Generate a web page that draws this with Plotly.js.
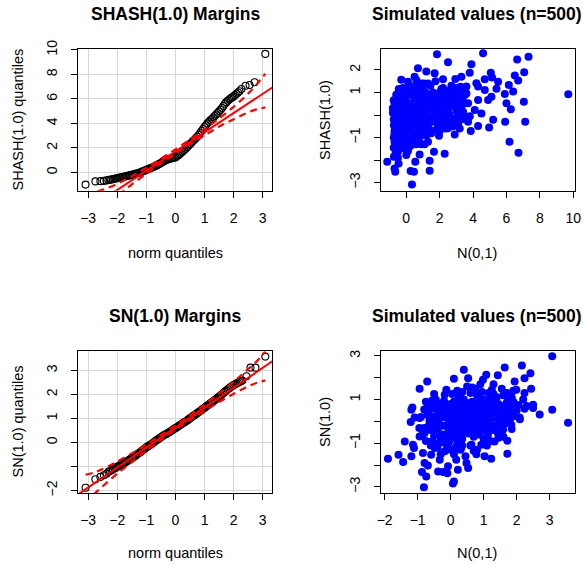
<!DOCTYPE html>
<html><head><meta charset="utf-8">
<script src="https://cdn.plot.ly/plotly-3.0.1.min.js"></script>
<style>html,body{margin:0;padding:0;background:#fff}#chart{width:583px;height:567px}</style>
</head><body><div id="chart"></div>
<script>
// ---------- DATA ----------
// Top-left: SHASH(1.0) QQ plot (theoretical quantile, sample quantile)
const tlTheo = [-3.09,-2.75,-2.58,-2.46,-2.37,
  -2.3,-2.2,-2.1,-2.0,-1.9,-1.8,-1.7,-1.6,-1.5,-1.4,-1.3,-1.2,-1.1,-1.0,-0.9,-0.8,-0.7,-0.6,-0.5,-0.4,-0.3,-0.2,-0.1,
  0,0.1,0.2,0.3,0.4,0.5,0.6,0.7,0.8,0.9,1.0,1.1,1.2,1.3,1.4,1.5,1.6,1.7,1.8,1.9,2.0,2.1,2.2,
  2.27,2.41,2.55,2.72,3.09];
const tlSample = [-1.0,-0.74,-0.72,-0.70,-0.66,
  -0.62,-0.58,-0.53,-0.47,-0.42,-0.37,-0.32,-0.26,-0.20,-0.14,-0.07,0.01,0.10,0.20,0.30,0.40,0.50,0.62,0.76,0.90,1.02,1.10,1.16,
  1.22,1.40,1.60,1.82,2.05,2.30,2.55,2.78,3.05,3.38,3.70,4.00,4.25,4.48,4.72,4.98,5.25,5.60,5.85,6.05,6.20,6.42,6.62,
  6.80,7.07,7.13,7.35,9.67];
const tlTheoMid = [-2.25,-2.15,-2.05,-1.95,-1.85,-1.75,-1.65,-1.55,-1.45,-1.35,-1.25,-1.15,-1.05,-0.95,-0.85,-0.75,-0.65,-0.55,-0.45,-0.35,-0.25,-0.15,-0.05,
  0.05,0.15,0.25,0.35,0.45,0.55,0.65,0.75,0.85,0.95,1.05,1.15,1.25,1.35,1.45,1.55,1.65,1.75,1.85,1.95,2.05,2.15];
const tlSampleMid = [-0.60,-0.555,-0.50,-0.445,-0.395,-0.345,-0.29,-0.23,-0.17,-0.105,-0.03,0.055,0.15,0.25,0.35,0.45,0.56,0.69,0.83,0.96,1.06,1.13,1.19,
  1.31,1.50,1.71,1.93,2.17,2.42,2.66,2.91,3.21,3.54,3.85,4.12,4.36,4.60,4.85,5.11,5.42,5.73,5.95,6.12,6.31,6.52];
const tlLine = {intercept: 1.70, slope: 1.57};
const bandTheo = [-3.09,-2.8,-2.5,-2.2,-2.0,-1.5,-1.0,-0.5,0,0.5,1.0,1.5,2.0,2.2,2.5,2.8,3.09];
const tlUpper = [-1.65,-1.60,-1.43,-1.15,-0.94,-0.33,0.38,1.11,1.87,2.68,3.52,4.39,5.34,5.75,6.43,7.20,8.05];
const tlLower = [-4.65,-3.80,-3.03,-2.35,-1.94,-0.99,-0.12,0.73,1.53,2.30,3.02,3.73,4.34,4.56,4.90,5.15,5.30];

// Bottom-left: SN(1.0) QQ plot
const blTheo = [-3.09,-2.75,-2.58,-2.46,-2.37,
  -2.3,-2.2,-2.1,-2.0,-1.9,-1.8,-1.7,-1.6,-1.5,-1.4,-1.3,-1.2,-1.1,-1.0,-0.9,-0.8,-0.7,-0.6,-0.5,-0.4,-0.3,-0.2,-0.1,
  0,0.1,0.2,0.3,0.4,0.5,0.6,0.7,0.8,0.9,1.0,1.1,1.2,1.3,1.4,1.5,1.6,1.7,1.8,1.9,2.0,2.1,2.2,2.3,
  2.44,2.58,2.75,3.09];
const blSample = [-1.88,-1.53,-1.43,-1.36,-1.30,
  -1.22,-1.15,-1.08,-1.01,-0.95,-0.88,-0.81,-0.73,-0.65,-0.57,-0.48,-0.39,-0.29,-0.20,-0.12,-0.04,0.05,0.14,0.22,0.30,0.37,0.44,0.52,
  0.60,0.68,0.76,0.84,0.92,1.01,1.10,1.18,1.27,1.36,1.45,1.54,1.63,1.72,1.81,1.91,2.01,2.12,2.22,2.31,2.39,2.46,2.52,2.58,
  2.76,3.12,3.12,3.58];
const blTheoMid = [-2.25,-2.15,-2.05,-1.95,-1.85,-1.75,-1.65,-1.55,-1.45,-1.35,-1.25,-1.15,-1.05,-0.95,-0.85,-0.75,-0.65,-0.55,-0.45,-0.35,-0.25,-0.15,-0.05,
  0.05,0.15,0.25,0.35,0.45,0.55,0.65,0.75,0.85,0.95,1.05,1.15,1.25,1.35,1.45,1.55,1.65,1.75,1.85,1.95,2.05,2.15,2.25];
const blSampleMid = [-1.185,-1.115,-1.045,-0.98,-0.915,-0.845,-0.77,-0.69,-0.61,-0.525,-0.435,-0.34,-0.245,-0.16,-0.08,0.005,0.095,0.18,0.26,0.335,0.405,0.48,0.56,
  0.64,0.72,0.80,0.88,0.965,1.055,1.14,1.225,1.315,1.405,1.495,1.585,1.675,1.765,1.86,1.96,2.065,2.17,2.265,2.35,2.425,2.49,2.55];
const blLine = {intercept: 0.62, slope: 0.83};
const blUpper = [-1.34,-1.25,-1.10,-0.92,-0.79,-0.45,-0.08,0.31,0.71,1.14,1.58,2.05,2.53,2.74,3.06,3.39,3.79];
const blLower = [-2.54,-2.15,-1.82,-1.50,-1.29,-0.81,-0.34,0.11,0.53,0.94,1.32,1.69,2.03,2.16,2.34,2.49,2.59];

// Top-right scatter: [x, y]
const trPoints = [
 [1.84,2.70],[4.6,2.74],[2.5,2.34],[3.9,2.25],[6.64,2.46],[7.32,2.59],[0.7,2.07],[3.8,1.88],[6.5,1.75],[7.06,1.9],
 [6.7,1.53],[5.06,1.88],[5.14,1.67],[4.7,1.59],[5.5,1.48],[6.14,1.33],[5.4,1.16],[6.4,1.04],[5.9,0.93],[5.1,0.81],
 [6.0,0.52],[6.26,0.25],[7.04,0.59],[9.7,0.92],[5.2,-0.21],[4.96,-0.56],[5.92,-0.3],[7.12,-0.3],[6.18,-1.19],[6.72,-1.67],
 [4.3,-0.49],[3.86,-0.71],[2.9,-0.86],[2.3,-1.72],[1.96,-0.92],[1.66,-1.63],[1.4,-2.03],[1.4,-2.47],[0.34,-3.08],[0.26,-2.49],
 [0.46,-2.52],[-0.66,-2.52],[-0.7,-2.37],[-1.14,-2.07],[-0.74,-1.85],[-0.46,-2.15],[0.54,-2.07],[0.8,-1.75],[1.1,-1.3],[1.5,-0.81],
 [4.2,1.41],[4.3,1.26],[3.6,1.26],[3.3,1.7],[2.94,1.6],[2.2,1.59],[1.2,1.93],[1.7,1.85],[-0.3,1.56],[0.1,1.48],
 [0.5,1.7],[3.3,0.15],[4.1,0.22],[4.5,0.07],[3.7,-0.3],[3.1,-0.44],[2.5,-0.59],[1.9,-0.52],[0.9,-0.74],[1.3,-1.19],
 [0.3,-1.33],[-0.2,-1.48],[-0.5,-1.63],[0,-1.78],[4.9,0.67],[4.3,0.67],[3.7,0.52],[4.7,1.11],[3.5,0.89],[2.9,0.89],
 [3.1,0.44],[2.5,0.15],[2.3,-0.22],[-0.8,0.3],[-0.7,0],[-0.74,-0.44],[-0.7,-0.81],[-0.6,-1.19],[-0.5,0.74],[-0.6,0.37],
 [-0.7,-0.5],[-0.6,-0.2],[-0.5,0.1],[-0.4,0.4],[-0.3,-0.8],[-0.2,-0.3],[-0.1,0.2],[0,0.6],[0.1,-0.5],[0.2,0.0],
 [0.3,0.5],[0.4,-1.0],[0.5,-0.2],[0.6,0.3],[0.7,0.8],[0.8,-0.6],[0.9,0.1],[1.0,0.6],[1.1,-0.3],[1.2,0.2],
 [1.3,0.9],[1.4,-0.1],[1.5,0.4],[1.6,1.0],[1.7,0.0],[1.8,0.6],[1.9,-0.4],[2.0,0.3],[2.1,0.9],[2.2,1.2],
 [2.4,0.5],[2.6,0.0],[2.8,0.7],[3.0,0.2],[3.2,1.1],[3.4,0.6],[3.6,-0.1],[-0.75,-1.0],[-0.65,-1.3],[-0.55,-0.9],
 [-0.45,-1.1],[-0.35,-0.5],[-0.25,0.0],[-0.15,0.7],[-0.05,-1.2],[0.05,0.9],[0.15,1.1],[0.25,-0.7],[0.35,0.2],[0.45,0.8],
 [0.55,1.3],[0.65,-0.4],[0.75,0.3],[0.85,1.1],[0.95,-0.9],[1.05,1.4],[1.15,0.0],[1.25,-0.5],[1.35,0.5],[1.45,1.3],
 [1.55,-0.7],[1.65,0.3],[1.75,1.5],[1.85,0.9],[1.95,0.1],[2.05,-0.2],[2.3,-0.1],[2.5,0.8],[2.7,1.3],[2.9,-0.2],
 [3.1,0.8],[3.3,-0.2],[3.5,1.1],[-0.8,0.1],[-0.7,0.5],[-0.6,0.9],[-0.5,-1.4],[-0.4,-0.6],[-0.3,0.9],[-0.2,1.2],
 [-0.1,-0.9],[0.0,-0.2],[0.1,0.3],[0.2,-1.4],[0.3,-0.3],[0.4,1.0],[0.5,0.4],[0.6,-0.8],[0.7,-0.1],[0.8,0.5],
 [0.9,1.4],[1.0,-0.6],[1.1,0.8],[1.2,-0.9],[1.3,0.2],[1.4,0.7],[1.6,-0.3],[1.7,0.8],[1.8,-0.7],[2.0,1.0],
 [2.2,0.2],[2.4,-0.4],[-0.65,0.2],[-0.55,-0.6],[-0.45,0.6],[-0.35,0.2],[-0.25,-1.0],[-0.15,-0.4],[-0.05,0.4],[0.05,-0.7],
 [0.15,0.5],[0.25,0.9],[0.35,-0.5],[0.45,0.0],[0.55,0.6],[0.65,1.0],[0.75,-1.1],[0.85,0.0],[0.95,0.6],[1.05,0.2],
 [1.15,1.0],[1.25,-0.2],[1.35,-0.6],[1.5,0.9],[1.6,0.5],[1.75,-0.2],[1.9,0.4],[2.1,0.6],[2.3,1.0],[2.6,0.4],
 [2.8,-0.5],[3.0,1.2],[-0.7,-0.7],[-0.6,-1.6],[-0.7,-1.2],[-0.3,-1.3],[0.0,-1.0],[0.3,-0.9],[0.6,-1.3],[0.9,-1.3],
 [-0.5,-1.9],[0.1,-1.6],
 [-0.75,-0.2],[-0.65,0.05],[-0.55,0.35],[-0.45,-0.35],[-0.35,0.65],[-0.25,0.35],[-0.15,-0.15],[-0.05,-0.55],[0.05,0.15],[0.15,-0.25],
 [0.25,0.45],[0.35,1.05],[0.45,-0.45],[0.55,0.05],[0.65,0.5],[0.75,1.05],[0.85,-0.3],[0.95,0.35],[2.25,0.9],[2.35,-0.6],
 [2.45,0.65],[2.55,0.05],[2.65,0.45],[2.75,1.15],[2.85,-0.35],[2.95,0.35],[3.05,-0.1],[3.15,0.75],[3.25,1.25],[3.35,0.45],
 [-0.7,-0.95],[-0.6,-0.45],[-0.4,-0.95],[-0.2,0.55],[0.0,0.35],[0.2,-0.35],[0.4,0.3],[0.6,0.95],[0.8,0.8],[2.0,0.25],
 [2.1,1.15],[2.2,0.5],[2.3,-0.35],[2.4,1.05],[2.5,0.1],[2.6,0.75],[2.7,0.5],[2.8,1.2],[-0.75,-1.45],[-0.65,-1.75],
 [-0.55,-1.25],[-0.4,-1.45],[-0.2,-1.1],[0.1,-1.15],[0.4,-1.3],[0.7,-0.85],[-0.75,0.65],[-0.45,1.15],[0.2,1.3],[0.6,1.55],
 [1.0,1.2],[1.3,1.4],[2.4,0.9],[2.6,-0.3],[2.2,-0.5],[2.0,-0.7],[2.5,1.05],[3.4,0.15],[3.6,0.95],[3.8,-0.05],
 [3.2,-0.6]
];

// Bottom-right scatter: [x, y]
const brPoints = [
 [3.08,2.98],[2.16,2.56],[1.64,2.47],[2.42,2.2],[2.24,1.98],[1.94,1.83],[1.43,2.11],[1.08,2.14],[0.98,1.91],[0.4,2.37],
 [0.1,1.95],[0.53,1.98],[-0.71,1.83],[-0.94,1.5],[2.44,1.5],[1.99,1.45],[2.24,1.3],[-0.13,1.45],[-0.18,1.22],[-0.57,0.95],
 [-1.19,0.53],[-1.16,0.64],[-0.69,0.69],[-1.21,-0.03],[-1.09,0.18],[-0.94,0.15],[-0.64,0.03],[3.08,0.53],[2.7,0.31],[3.56,-0.06],
 [2.5,0.76],[2.5,0.61],[2.24,0.58],[2.09,0.18],[1.84,-0.15],[1.59,-0.38],[1.72,-0.89],[1.72,-1.48],[1.23,-1.71],[1.03,-1.6],
 [1.33,-0.92],[0.78,-1.5],[0.53,-2.14],[0.48,-1.91],[0.22,-2.21],[0.1,-2.75],[0.07,-2.85],[-0.81,-3.02],[-0.74,-2.52],[-0.87,-2.32],
 [-0.69,-2.02],[-0.79,-1.91],[-0.38,-2.29],[-0.23,-2.32],[-0.1,-2.37],[-0.08,-2.06],[0.17,-1.76],[-0.33,-1.76],[-0.59,-1.53],[-0.84,-1.45],
 [-1.19,-1.6],[-1.44,-1.86],[-1.58,-1.53],[-1.9,-1.71],[-1.39,-0.92],[-1.14,-1.07],[-1.11,-1.22],[-0.94,-0.69],[-0.79,-0.53],[-0.48,-1.22],
 [-0.18,-1.37],[0.32,-1.22],[0.63,-1.07],[0.93,-1.07],[1.13,-0.61],[1.43,-0.53],
 [-0.6,-0.4],[-0.5,0.0],[-0.4,0.4],[-0.3,-0.8],[-0.2,-0.2],[-0.1,0.3],[0.0,0.8],[0.1,-0.6],[0.2,0.0],[0.3,0.5],
 [0.4,1.0],[0.5,-0.3],[0.6,0.2],[0.7,0.7],[0.8,1.2],[0.9,-0.1],[1.0,0.4],[1.1,0.9],[1.2,0.0],[1.3,0.5],
 [1.4,1.1],[1.5,0.2],[1.6,0.7],[1.7,1.3],[1.8,0.4],[1.9,0.9],[2.0,0.5],[-0.55,-0.9],[-0.45,-0.3],[-0.35,0.1],
 [-0.25,0.6],[-0.15,-1.0],[-0.05,-0.4],[0.05,0.1],[0.15,0.6],[0.25,1.1],[0.35,-0.8],[0.45,-0.1],[0.55,0.4],[0.65,0.9],
 [0.75,1.5],[0.85,-0.6],[0.95,0.1],[1.05,0.6],[1.15,1.3],[1.25,-0.4],[1.35,0.2],[1.45,0.8],[1.55,1.5],[1.65,-0.1],
 [1.75,0.6],[1.85,1.1],[-0.7,0.3],[-0.6,-1.1],[-0.4,-1.2],[-0.3,0.8],[-0.2,-0.6],[-0.1,-1.2],[0.0,0.3],[0.1,0.9],
 [0.2,-1.0],[0.3,-0.3],[0.4,0.2],[0.5,0.8],[0.6,1.3],[0.7,-0.7],[0.8,0.0],[0.9,0.5],[1.0,1.0],[1.1,-0.5],
 [1.2,0.7],[1.3,-0.2],[1.4,0.3],[1.6,0.0],[1.7,0.3],[1.8,0.8],[1.9,1.4],[-0.5,0.6],[-0.4,-0.5],[-0.3,-0.2],
 [-0.2,0.2],[-0.1,0.7],[0.0,-0.7],[0.1,-0.2],[0.2,0.4],[0.3,0.9],[0.4,-0.5],[0.5,0.1],[0.6,0.6],[0.7,0.2],
 [0.8,0.7],[0.9,1.0],[1.0,-0.2],[1.1,0.2],[1.2,1.1],[1.3,0.9],[1.4,-0.4],[1.5,0.6],[1.0,-0.8],[0.6,-1.1],
 [0.3,-1.3],[0.0,-1.3],[-0.3,-1.5],[0.2,1.4],[0.5,1.6],[0.9,1.7],[1.3,1.7],[-0.8,-0.3],[-0.9,0.2],[-0.75,0.9],
 [-0.45,1.0],[0.1,-1.5],[0.45,-1.6],[0.8,-1.3],[1.2,-0.9],[1.6,-0.7],[2.1,0.1],[2.2,1.0],[2.3,0.7],
 [-0.65,0.5],[-0.55,0.2],[-0.45,-0.15],[-0.35,-0.55],[-0.25,-0.9],[-0.15,0.35],[-0.05,0.0],[0.05,-0.35],[0.15,-0.75],[0.25,0.25],
 [0.35,0.65],[0.45,0.45],[0.55,-0.55],[0.65,-0.25],[0.75,0.05],[0.85,0.35],[0.95,0.75],[1.05,-0.35],[1.15,-0.15],[1.25,0.35],
 [1.35,0.65],[1.45,0.05],[1.55,-0.25],[1.65,0.45],[1.75,0.95],[1.85,-0.35],[1.95,0.25],[2.05,0.75],
 [-0.6,0.75],[-0.5,-0.65],[-0.4,0.75],[-0.3,0.45],[-0.2,-0.95],[-0.1,-0.15],[0.0,0.5],[0.1,0.15],[0.2,0.7],[0.3,-0.6],
 [0.4,-0.2],[0.5,0.3],[0.6,-0.1],[0.7,0.45],[0.8,-0.3],[0.9,0.25],[1.0,0.7],[1.1,-0.1],[1.2,0.45],[1.3,1.25],
 [1.4,0.55],[1.5,-0.1],[1.6,0.3],[1.7,0.85],[1.8,0.1],[1.9,0.6],
 [-0.85,-0.6],[-0.75,-0.9],[-0.65,-0.15],[-0.95,-0.3],[-0.8,0.55],[-0.5,1.25],[-0.2,0.95],[0.05,1.25],[0.35,1.35],[0.65,1.55],
 [0.95,1.35],[1.25,1.45],[1.6,1.2],[1.45,-0.75],[1.1,-1.1],[0.7,-1.35],[0.35,-1.1],[-0.05,-0.95],[-0.35,-1.0],[0.15,-1.2],
 [0.2,0.2],[0.4,0.55],[0.6,0.85],[0.8,0.25],[1.0,0.15],[0.3,0.05],[0.5,-0.05],[0.7,-0.4],[0.9,-0.45],[1.1,0.45],
 [0.0,0.1],[-0.1,0.5],[0.1,0.55],[0.45,0.7],[0.85,0.9],[1.2,0.25],[1.4,0.75],[1.55,0.4],[0.25,-0.45],[-0.15,-0.7]
];

// Titles / labels
const titles = ["SHASH(1.0) Margins", "Simulated values (n=500)", "SN(1.0) Margins", "Simulated values (n=500)"];
const xTitles = ["norm quantiles", "N(0,1)", "norm quantiles", "N(0,1)"];
const yTitles = ["SHASH(1.0) quantiles", "SHASH(1.0)", "SN(1.0) quantiles", "SN(1.0)"];

const tlXTicks = [-3,-2,-1,0,1,2,3];
const tlYTicks = [0,2,4,6,8,10];
const trXTicks = [0,2,4,6,8,10];
const trYTicks = [-3,-2,-1,0,1,2];
const trYLabels = ["−3","","−1","","1","2"];
const blYTicks = [-2,-1,0,1,2,3];
const blYLabels = ["−2","","0","1","2","3"];
const brXTicks = [-2,-1,0,1,2,3];
const brYTicks = [-3,-2,-1,0,1,2,3];
const brYLabels = ["−3","","−1","","1","","3"];
const lbl = v => v.map(t => (t < 0 ? "−" + Math.abs(t) : String(t)));

// ---------- LAYOUT HELPERS ----------
const W = 583, H = 567;
const px = x => x / W, py = y => 1 - y / H;
const FONT = "Liberation Sans, Arial, Helvetica, sans-serif";

const traces = [];
function qqTraces(theo, sample, line, up, lo, xa, ya, xr) {
  traces.push({x: theo, y: sample, xaxis: xa, yaxis: ya, type: "scatter", mode: "markers",
    marker: {symbol: "circle-open", size: 7, color: "black", line: {width: 1.1, color: "black"}}});
  traces.push({x: xr, y: xr.map(v => line.intercept + line.slope * v), xaxis: xa, yaxis: ya,
    type: "scatter", mode: "lines", line: {color: "red", width: 2}});
  [up, lo].forEach(b => traces.push({x: bandTheo, y: b, xaxis: xa, yaxis: ya, type: "scatter",
    mode: "lines", line: {color: "red", width: 2.2, dash: "7px,5px", shape: "spline", smoothing: 0.6}}));
}
function scatterTrace(pts, xa, ya) {
  traces.push({x: pts.map(p => p[0]), y: pts.map(p => p[1]), xaxis: xa, yaxis: ya, type: "scatter",
    mode: "markers", marker: {symbol: "circle", size: 8, color: "#0000FF"}});
}

const tlXR = [-3.36, 3.33];
const blXR = [-3.36, 3.33];
qqTraces(tlTheo.concat(tlTheoMid), tlSample.concat(tlSampleMid), tlLine, tlUpper, tlLower, "x", "y", tlXR);
scatterTrace(trPoints, "x2", "y2");
qqTraces(blTheo.concat(blTheoMid), blSample.concat(blSampleMid), blLine, blUpper, blLower, "x3", "y3", blXR);
scatterTrace(brPoints, "x4", "y4");

function axis(domain, range, tickvals, ticktext, isY, grid, anchor) {
  return {
    domain: domain, range: range, autorange: false, anchor: anchor,
    tickmode: "array", tickvals: tickvals, ticktext: ticktext,
    ticks: "outside", ticklen: 6, tickwidth: 1, tickcolor: "black",
    showline: true, mirror: true, linecolor: "black", linewidth: 1,
    zeroline: false, showgrid: grid, gridcolor: "#d6d6d6", gridwidth: 1,
    tickfont: {family: FONT, size: 14, color: "black"},
    tickangle: isY ? -90 : 0,
    ticklabelstandoff: isY ? 8 : 8,
    automargin: false,
    fixedrange: true
  };
}

const xL = [px(77.7), px(272.3)], xR = [px(380.7), px(575.3)];
const yT = [py(190.7), py(49)], yB = [py(493), py(351.3)];

const layout = {
  width: W, height: H, margin: {l: 0, r: 0, t: 0, b: 0}, showlegend: false,
  paper_bgcolor: "white", plot_bgcolor: "white",
  xaxis: axis(xL, tlXR, tlXTicks, lbl(tlXTicks), false, true, "y"),
  yaxis: axis(yT, [-1.50, 10.07], tlYTicks, lbl(tlYTicks), true, true, "x"),
  xaxis2: axis(xR, [-1.53, 10.12], trXTicks, lbl(trXTicks), false, false, "y2"),
  yaxis2: axis(yT, [-3.36, 2.93], trYTicks, trYLabels, true, false, "x2"),
  xaxis3: axis(xL, blXR, tlXTicks, lbl(tlXTicks), false, true, "y3"),
  yaxis3: axis(yB, [-2.10, 3.80], blYTicks, blYLabels, true, true, "x3"),
  xaxis4: axis(xR, [-2.12, 3.78], brXTicks, lbl(brXTicks), false, false, "y4"),
  yaxis4: axis(yB, [-3.28, 3.21], brYTicks, brYLabels, true, false, "x4"),
  annotations: []
};

const centersX = [175, 477, 175, 477];
const titleY = [14, 14, 316, 316];
const xTitleY = [253, 253, 553, 553];
const yTitleX = [17.5, 325, 17.5, 325];
const yTitleY = [120, 120, 422, 422];
for (let i = 0; i < 4; i++) {
  layout.annotations.push({text: "<b>" + titles[i] + "</b>", xref: "paper", yref: "paper",
    x: px(centersX[i]), y: py(titleY[i]), xanchor: "center", yanchor: "middle", showarrow: false,
    font: {family: FONT, size: 17.5, color: "black"}});
  layout.annotations.push({text: xTitles[i], xref: "paper", yref: "paper",
    x: px(centersX[i]), y: py(xTitleY[i]), xanchor: "center", yanchor: "middle", showarrow: false,
    font: {family: FONT, size: 14.5, color: "black"}});
  layout.annotations.push({text: yTitles[i], xref: "paper", yref: "paper", textangle: -90,
    x: px(yTitleX[i]), y: py(yTitleY[i]), xanchor: "center", yanchor: "middle", showarrow: false,
    font: {family: FONT, size: 14.5, color: "black"}});
}

Plotly.newPlot("chart", traces, layout, {staticPlot: true, displayModeBar: false});
</script></body></html>
